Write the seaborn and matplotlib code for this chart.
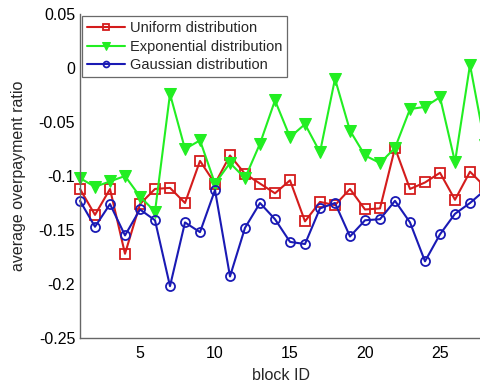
import numpy as np
import pandas as pd
import matplotlib
matplotlib.use("Agg")
import matplotlib.pyplot as plt
import seaborn as sns

block_id = list(range(1, 29))
uniform = [-0.112, -0.136, -0.112, -0.172, -0.126, -0.112, -0.111, -0.125, -0.086, -0.107,
           -0.081, -0.098, -0.107, -0.116, -0.104, -0.142, -0.124, -0.127, -0.112, -0.131,
           -0.130, -0.074, -0.112, -0.106, -0.097, -0.122, -0.096, -0.110]
exponential = [-0.102, -0.110, -0.105, -0.100, -0.119, -0.133, -0.024, -0.075, -0.067, -0.107,
               -0.088, -0.102, -0.070, -0.030, -0.064, -0.052, -0.078, -0.010, -0.058, -0.081,
               -0.088, -0.074, -0.038, -0.036, -0.027, -0.087, 0.003, -0.071]
gaussian = [-0.123, -0.147, -0.126, -0.155, -0.131, -0.141, -0.202, -0.143, -0.152, -0.113,
            -0.193, -0.148, -0.125, -0.140, -0.161, -0.163, -0.130, -0.125, -0.156, -0.141,
            -0.140, -0.123, -0.143, -0.179, -0.154, -0.135, -0.125, -0.113]
series_names = ["Uniform distribution", "Exponential distribution", "Gaussian distribution"]
yticks = [0.05, 0, -0.05, -0.1, -0.15, -0.2, -0.25]
ytick_labels = ["0.05", "0", "-0.05", "-0.1", "-0.15", "-0.2", "-0.25"]
xticks = [5, 10, 15, 20, 25]

df = pd.DataFrame({
    "block ID": block_id * 3,
    "ratio": uniform + exponential + gaussian,
    "series": [series_names[0]] * 28 + [series_names[1]] * 28 + [series_names[2]] * 28,
})

sns.set_style("white")
plt.rcParams["font.family"] = ["Liberation Sans", "DejaVu Sans"]

fig = plt.figure(figsize=(4.81, 3.86), dpi=100)
ax = fig.add_axes([80 / 481, 48 / 386, 1 - 80 / 481, (338 - 14) / 386])

styles = {
    series_names[0]: dict(color="#d41c1c", marker="s", markersize=6.5, markerfacecolor="none",
                          markeredgewidth=1.3, markeredgecolor="#d41c1c"),
    series_names[1]: dict(color="#22ee22", marker="v", markersize=8, markerfacecolor="#22ee22",
                          markeredgecolor="#22ee22"),
    series_names[2]: dict(color="#1a1ab4", marker="o", markersize=6.5, markerfacecolor="none",
                          markeredgewidth=1.3, markeredgecolor="#1a1ab4"),
}

for name in series_names:
    sub = df[df["series"] == name]
    sns.lineplot(data=sub, x="block ID", y="ratio", ax=ax, label=name,
                 linewidth=1.5, estimator=None, clip_on=False, **styles[name])

ax.set_xlim(1, 1 + 401 / 15)
ax.set_ylim(-0.25, 0.05)
ax.set_yticks(yticks)
ax.set_yticklabels(ytick_labels)
ax.set_xticks(xticks)
ax.tick_params(axis="both", direction="in", length=4, labelsize=11.5, colors="#000000",
               width=0.8)
ax.tick_params(axis="x", pad=6)
for t in ax.get_xticklines() + ax.get_yticklines():
    t.set_color("#888888")
ax.set_xlabel("block ID", fontsize=11.5, labelpad=5)
ax.set_ylabel("average overpayment ratio", fontsize=11.5, labelpad=9)

for s in ["top", "right"]:
    ax.spines[s].set_visible(False)
for s in ["left", "bottom"]:
    ax.spines[s].set_color("#666666")
    ax.spines[s].set_linewidth(1.0)

leg = ax.legend(loc="upper left", fontsize=10.5, frameon=True, fancybox=False,
                borderaxespad=0.15, handlelength=2.6, handletextpad=0.3,
                labelspacing=0.3, borderpad=0.35, markerscale=0.65)
leg.get_frame().set_edgecolor("#444444")
leg.get_frame().set_linewidth(0.9)
leg.set_zorder(5)

fig.savefig("out.png", dpi=100)
